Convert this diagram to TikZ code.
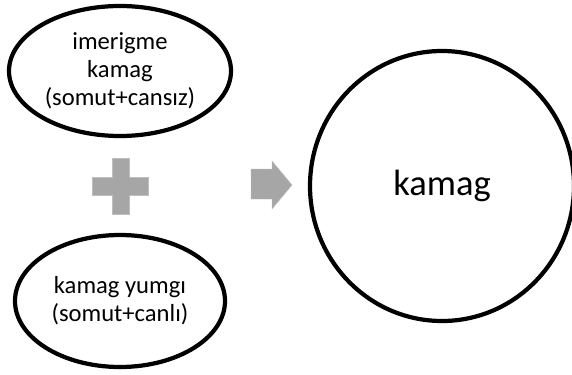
\documentclass[tikz,border=0pt]{standalone}
\usepackage{fontspec}
\setmainfont{Carlito}
\usetikzlibrary{shapes.geometric}
\definecolor{signGray}{RGB}{166,166,166}
\definecolor{signEdge}{RGB}{190,190,190}
\tikzset{
  bubble/.style={draw, ellipse, line width=3pt, inner sep=0pt, align=center,
    font=\fontsize{17.5pt}{20pt}\selectfont},
  sign/.style={fill=signGray, draw=signEdge, line width=0.3pt}
}

\begin{document}
\begin{tikzpicture}
    \useasboundingbox (0,0) rectangle (14.3,9.35);

    % Kamaglar (sol taraf)
    \node[bubble, minimum width=5.55cm, minimum height=3.25cm] (imerigme) at (3.0,7.575)
        {imerigme\\kamag\\(somut+cansız)};
    \node[bubble, minimum width=5.25cm, minimum height=3.3cm] (yumgi) at (3.0,1.825)
        {kamag yumgı\\(somut+canlı)};

    % Artı işareti
    \draw[sign] (2.8,5.4) -- (3.22,5.4) -- (3.22,4.925) -- (3.7,4.925) -- (3.7,4.475)
        -- (3.22,4.475) -- (3.22,4.0) -- (2.8,4.0) -- (2.8,4.475) -- (2.3,4.475)
        -- (2.3,4.925) -- (2.8,4.925) -- cycle;

    % Sağ ok
    \draw[sign] (6.275,5.125) -- (6.8,5.125) -- (6.8,5.325) -- (7.3,4.725) -- (6.8,4.125)
        -- (6.8,4.375) -- (6.275,4.375) -- cycle;

    % Sonuç
    \node[draw, ellipse, line width=3pt, minimum width=6.6cm, minimum height=6.75cm,
        font=\fontsize{26pt}{30pt}\selectfont] (kamag) at (11.05,4.7) {kamag};
\end{tikzpicture}
\end{document}
